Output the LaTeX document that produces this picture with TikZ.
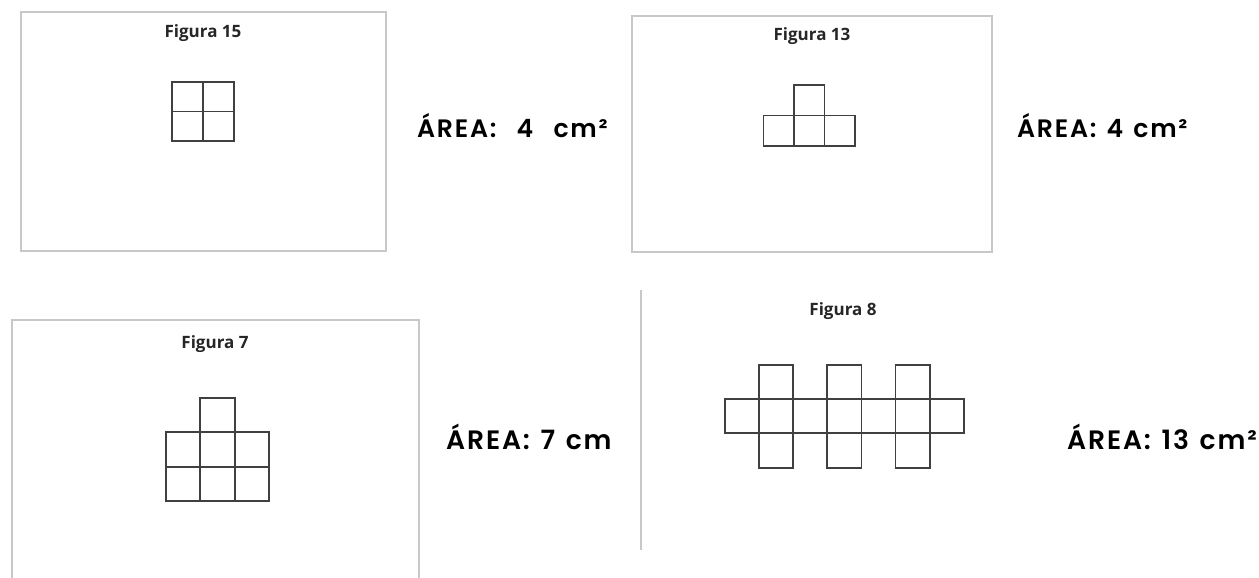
\documentclass[tikz,border=0pt]{standalone}
\usepackage{fontspec}
\usepackage{tikz}

\newfontfamily\titlefont{Open Sans}
\newfontfamily\areafont{Poppins SemiBold}[LetterSpace=7,WordSpace=1.3]

\definecolor{framegray}{RGB}{200,200,200}
\definecolor{cellgray}{RGB}{64,64,64}
\definecolor{titlegray}{RGB}{38,38,38}

\tikzset{
    frame/.style={draw=framegray, line width=1.3pt},
    cell/.style={draw=cellgray, line width=1.8pt, line join=miter},
    title/.style={font=\titlefont\bfseries\fontsize{17}{20}\selectfont, text=titlegray, anchor=base, inner sep=0pt},
    area/.style={font=\areafont\fontsize{#1}{30}\selectfont, anchor=base west, inner sep=0pt},
    area/.default=25.2
}

\begin{document}
\begin{tikzpicture}[x=1pt,y=-1pt]
    \useasboundingbox (0,0) rectangle (1259,578);

    % Figura 15
    \begin{scope}
        \draw[frame] (21,12) rectangle (386,251);
        \node[title] (t15) at (203,37.5) {Figura 15};
        \foreach \c/\r in {0/0,1/0,0/1,1/1}{
            \draw[cell] ({172+31*\c},{82+29.5*\r}) rectangle +(31,29.5);
        }
    \end{scope}

    \node[area] (a15) at (417,137) {ÁREA:\ \ 4\ \ cm²};

    % Figura 13
    \begin{scope}
        \draw[frame] (632,16) rectangle (992,252);
        \node[title] (t13) at (812,40.5) {Figura 13};
        \foreach \c/\r in {1/0,0/1,1/1,2/1}{
            \draw[cell] ({763.5+30.5*\c},{85+30.5*\r}) rectangle +(30.5,30.5);
        }
    \end{scope}

    \node[area] (a13) at (1017,137) {ÁREA: 4 cm²};

    % Figura 7
    \begin{scope}
        \draw[frame] (12,578) -- (12,320) -- (419,320) -- (419,578);
        \node[title] (t7) at (215,348.5) {Figura 7};
        \foreach \c/\r in {1/0,0/1,1/1,2/1,0/2,1/2,2/2}{
            \draw[cell] ({166+34.3*\c},{398+34.3*\r}) rectangle +(34.3,34.3);
        }
    \end{scope}

    \node[area=26.6] (a7) at (446,449.5) {ÁREA: 7 cm};

    % Figura 8
    \begin{scope}
        \draw[frame] (641,290) -- (641,550);
        \node[title] (t8) at (843,315.5) {Figura 8};
        \foreach \c in {0,...,6}{
            \draw[cell] ({725+34.1*\c},399) rectangle +(34.1,34.3);
        }
        \foreach \c in {1,3,5}{
            \draw[cell] ({725+34.1*\c},365) rectangle +(34.1,34);
            \draw[cell] ({725+34.1*\c},433.3) rectangle +(34.1,34.3);
        }
    \end{scope}

    \node[area=26.6] (a8) at (1067,449.5) {ÁREA: 13 cm²};
\end{tikzpicture}
\end{document}
